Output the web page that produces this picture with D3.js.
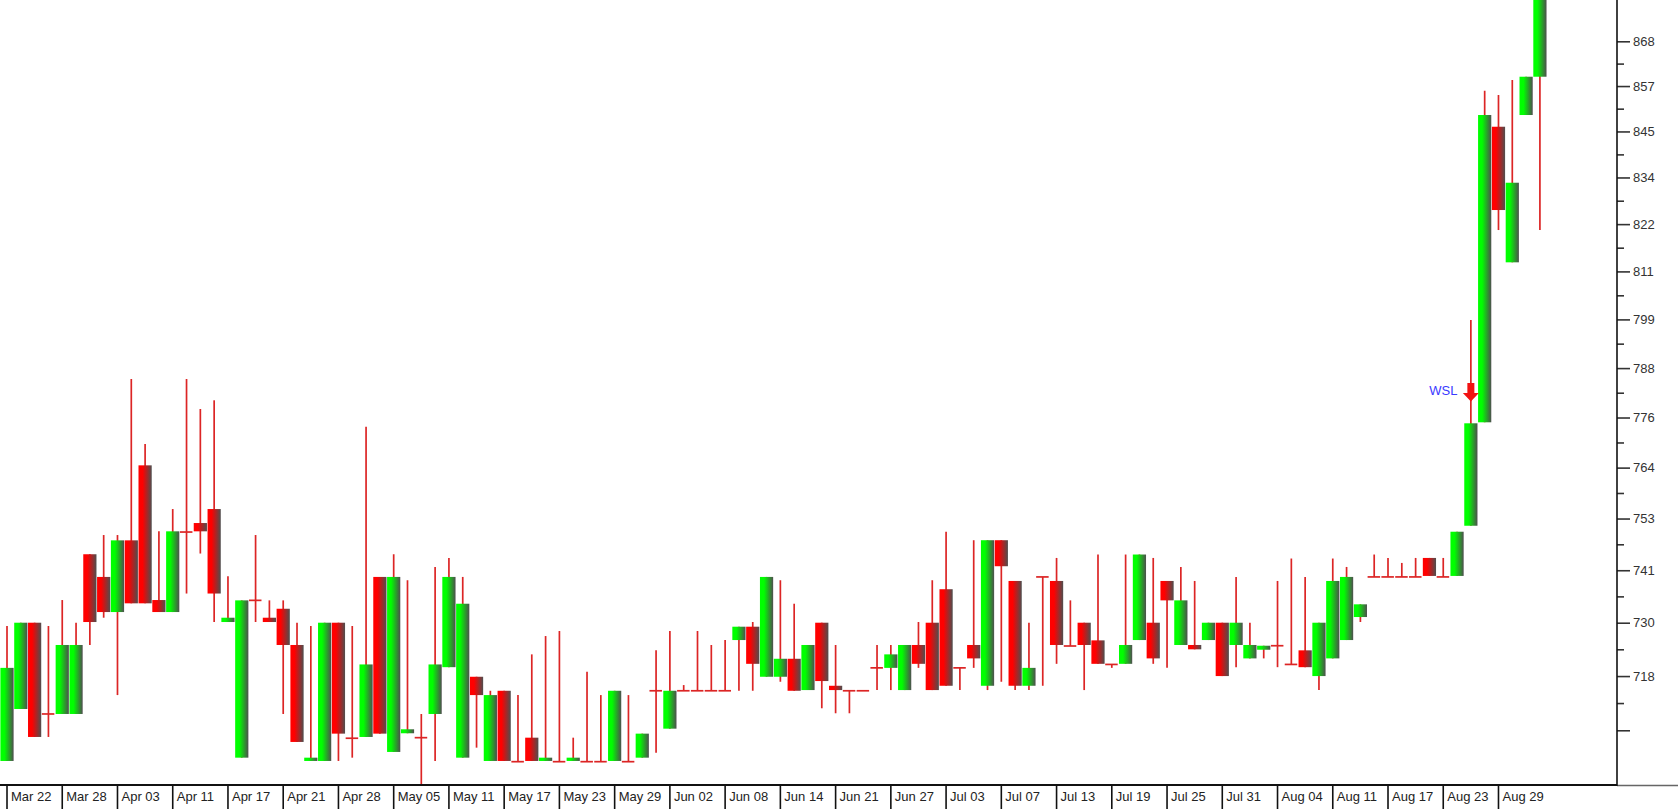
<!DOCTYPE html>
<html><head><meta charset="utf-8">
<script src="https://cdn.jsdelivr.net/npm/d3@7"></script>
<style>body{margin:0;background:#fff;overflow:hidden}svg{display:block}</style>
</head><body><svg id="c" width="1678" height="809"></svg>
<script>
const dateLabels = ["Mar 22","Mar 28","Apr 03","Apr 11","Apr 17","Apr 21","Apr 28","May 05","May 11","May 17","May 23","May 29","Jun 02","Jun 08","Jun 14","Jun 21","Jun 27","Jul 03","Jul 07","Jul 13","Jul 19","Jul 25","Jul 31","Aug 04","Aug 11","Aug 17","Aug 23","Aug 29"];
const openVals = [700.31,711.27,729.84,710.21,710.21,710.21,744.92,739.89,732.17,748.02,764.97,734.8,732.17,749.88,751.9,755.05,729.99,701.0,734.73,730.93,732.89,725.0,700.31,700.31,729.84,705.08,705.35,739.89,702.2,706.13,705.2,710.21,720.21,701.0,718.15,700.31,715.15,700.16,705.2,700.31,700.16,700.31,700.16,700.16,700.31,700.16,701.0,715.15,707.1,715.15,715.15,715.15,715.15,726.07,728.97,718.15,718.15,722.02,715.3,729.84,716.22,715.15,715.15,720.06,720.06,715.3,725.0,729.84,737.18,720.06,725.0,716.22,748.05,739.0,716.22,739.89,739.0,724.78,729.84,726.0,720.8,720.93,726.07,729.84,739.0,725.0,725.0,726.07,729.84,725.0,722.1,723.97,724.84,720.8,723.84,718.3,722.1,726.07,731.08,739.89,739.89,739.89,739.89,744.1,739.89,740.11,751.29,774.87,846.4,812.8,849.37,859.14];
const highVals = [729.12,729.84,729.84,729.12,734.8,729.84,744.92,749.21,749.21,784.96,769.86,750.04,755.05,784.96,777.96,779.98,740.04,734.73,749.21,734.73,734.73,729.84,729.12,729.84,729.84,729.12,773.85,739.89,744.92,739.16,710.21,742.1,744.1,739.89,718.15,715.15,715.15,714.23,722.97,726.94,728.03,705.2,719.22,714.23,715.15,714.23,706.05,723.84,728.03,716.37,728.03,725.0,726.07,728.97,729.99,739.89,739.16,733.99,725.0,729.84,725.0,715.15,715.15,725.0,725.0,725.0,729.99,739.16,749.95,720.06,748.05,748.05,748.05,739.0,729.84,739.89,744.1,734.73,729.84,744.86,720.8,744.86,744.86,744.1,739.0,742.1,739.0,729.84,729.84,739.89,729.84,724.84,739.0,743.97,739.89,729.84,743.97,742.1,733.86,744.86,744.1,742.99,744.1,744.1,744.1,749.95,798.91,855.56,854.46,858.3,859.14,882];
const lowVals = [700.31,711.27,705.35,705.35,710.21,710.21,725.0,730.93,714.23,734.08,734.08,732.17,732.17,736.23,745.08,729.99,729.99,701.0,729.99,729.99,710.21,704.3,700.31,700.31,700.31,701.0,705.35,706.05,702.2,706.13,695,700.31,720.21,701.0,703.1,700.31,700.31,700.16,700.31,700.31,700.16,700.31,700.16,700.16,700.31,700.16,701.0,702.05,707.1,715.15,715.15,715.15,715.15,715.15,715.15,718.15,717.08,715.15,715.3,711.42,710.36,710.36,715.15,715.3,715.3,715.3,720.06,715.3,716.22,715.3,720.06,715.3,717.08,715.3,715.3,716.22,720.93,724.78,715.3,720.93,720.06,720.93,726.07,720.93,720.06,725.0,724.06,726.07,718.3,720.21,722.1,722.1,720.21,720.8,720.21,715.3,722.1,726.07,729.99,739.89,739.89,739.89,739.89,740.11,739.89,740.11,751.29,774.87,820.68,812.8,849.37,820.68];
const closeVals = [720.06,729.84,705.35,710.21,725.0,725.0,729.99,732.17,748.02,734.08,734.08,732.17,750.04,749.88,750.04,736.23,730.93,734.73,734.73,729.99,725.0,704.3,701.0,729.84,706.05,705.08,720.8,706.05,739.89,706.97,705.2,720.8,739.89,733.99,714.23,714.23,700.31,700.16,700.31,701.0,700.16,701.0,700.16,700.16,715.15,700.16,706.05,715.15,715.15,715.15,715.15,715.15,715.15,728.97,720.93,739.89,722.02,715.15,725.0,717.23,715.3,715.15,715.15,720.06,722.97,725.0,720.93,715.3,716.22,720.06,722.1,748.05,742.26,716.22,720.06,739.89,725.0,724.78,725.0,720.93,720.8,725.0,744.86,722.1,734.73,734.73,724.06,729.84,718.3,729.84,725.0,724.84,724.84,720.8,720.21,729.84,739.0,739.89,733.86,739.89,739.89,739.89,739.89,740.11,739.89,749.95,774.64,849.37,825.6,832.36,859.14,882];
const yTickValues = [706.76,718.3,729.84,741.37,752.91,764.45,775.98,787.52,799.06,810.6,822.13,833.67,845.21,856.75,868.28];
const yTickLabels = ["","718","730","741","753","764","776","788","799","811","822","834","845","857","868"];
const annotationBar = 106, annotationValue = 779.7, annotationText = "WSL";

const plotRight = 1617, plotBottom = 785, step = 13.81;
const n = openVals.length;
const svg = d3.select("#c");
const x = d3.scaleBand().domain(d3.range(n)).range([0.1, 0.1 + n * step]).padding(0);
const bw = x.bandwidth();
const y = d3.scaleLog().domain([695.3, 879.06]).range([plotBottom, 0]);

const defs = svg.append("defs");
function grad(id, c) {
  const g = defs.append("linearGradient").attr("id", id).attr("x1", 0).attr("x2", 1).attr("y1", 0).attr("y2", 0);
  g.append("stop").attr("offset", "0%").attr("stop-color", c);
  g.append("stop").attr("offset", "30%").attr("stop-color", c);
  g.append("stop").attr("offset", "100%").attr("stop-color", "#4e4e4e");
}
grad("gUp", "#00ff00");
grad("gDn", "#ff0000");
defs.append("clipPath").attr("id", "clip").append("rect").attr("x", 0).attr("y", 0).attr("width", plotRight).attr("height", plotBottom);

const data = d3.range(n).map(i => ({i, o: openVals[i], h: highVals[i], l: lowVals[i], c: closeVals[i]}));
const plot = svg.append("g").attr("clip-path", "url(#clip)");
const wickColor = "#dc2525";

plot.selectAll("line.wick").data(data).join("line").attr("class", "wick")
  .attr("x1", d => x(d.i) + bw / 2).attr("x2", d => x(d.i) + bw / 2)
  .attr("y1", d => y(d.h)).attr("y2", d => y(d.l))
  .attr("stroke", wickColor).attr("stroke-width", 1.7);

plot.selectAll("rect.body").data(data.filter(d => d.o !== d.c)).join("rect").attr("class", "body")
  .attr("x", d => x(d.i) + 0.3).attr("width", bw - 0.6)
  .attr("y", d => y(Math.max(d.o, d.c)))
  .attr("height", d => Math.max(1.5, Math.abs(y(d.o) - y(d.c))))
  .attr("fill", d => d.c > d.o ? "url(#gUp)" : "url(#gDn)");

plot.selectAll("line.doji").data(data.filter(d => d.o === d.c)).join("line").attr("class", "doji")
  .attr("x1", d => x(d.i) + 0.3).attr("x2", d => x(d.i) + bw - 1)
  .attr("y1", d => y(d.o)).attr("y2", d => y(d.o))
  .attr("stroke", wickColor).attr("stroke-width", 1.7);

// annotation
const ax = x(annotationBar) + bw / 2, ay = y(annotationValue);
svg.append("path")
  .attr("d", `M${ax-3.5},${ay-18.5}L${ax+3.5},${ay-18.5}L${ax+3.5},${ay-8.5}L${ax+8},${ay-8.5}L${ax},${ay}L${ax-8},${ay-8.5}L${ax-3.5},${ay-8.5}Z`)
  .attr("fill", "#f21212");
svg.append("text").attr("x", ax - 13.5).attr("y", ay - 7).attr("text-anchor", "end")
  .attr("font-family", "Liberation Sans, Arial, sans-serif").attr("font-size", 13)
  .attr("fill", "#3a3aff").text(annotationText);

// right axis
const minorVals = d3.pairs(yTickValues).map(p => (p[0] + p[1]) / 2);
const yAxis = svg.append("g").attr("transform", `translate(${plotRight},0)`)
  .call(d3.axisRight(y).tickValues(yTickValues).tickSize(13).tickPadding(3).tickFormat((d, i) => yTickLabels[i]));
yAxis.select(".domain").remove();
yAxis.selectAll("line").attr("stroke", "#333").attr("stroke-width", 1.6);
yAxis.selectAll("text").attr("font-family", "Liberation Sans, Arial, sans-serif").attr("font-size", 13).attr("fill", "#333");
const yMinor = svg.append("g").attr("transform", `translate(${plotRight},0)`)
  .call(d3.axisRight(y).tickValues(minorVals).tickSize(7).tickFormat(""));
yMinor.select(".domain").remove();
yMinor.selectAll("line").attr("stroke", "#333").attr("stroke-width", 1.6);

// bottom axis
const xTickIdx = dateLabels.map((_, k) => k * 4);
const xAxis = svg.append("g").attr("transform", `translate(0,${plotBottom})`)
  .call(d3.axisBottom(x).tickValues(xTickIdx).tickSize(24).tickFormat((d, k) => dateLabels[k]));
xAxis.select(".domain").remove();
xAxis.selectAll("line").attr("stroke", "#111").attr("stroke-width", 1.6);
xAxis.selectAll("text").attr("x", 4).attr("y", 7).attr("dy", "0.71em").attr("text-anchor", "start")
  .attr("font-family", "Liberation Sans, Arial, sans-serif").attr("font-size", 13).attr("fill", "#222");

svg.append("line").attr("x1", 0).attr("x2", plotRight).attr("y1", plotBottom).attr("y2", plotBottom)
  .attr("stroke", "#111").attr("stroke-width", 2);
svg.append("line").attr("x1", plotRight).attr("x2", 1678).attr("y1", plotBottom + 0.5).attr("y2", plotBottom + 0.5)
  .attr("stroke", "#666").attr("stroke-width", 1.5);
svg.append("line").attr("x1", plotRight).attr("x2", plotRight).attr("y1", 0).attr("y2", plotBottom + 1)
  .attr("stroke", "#111").attr("stroke-width", 1.6);
</script></body></html>
